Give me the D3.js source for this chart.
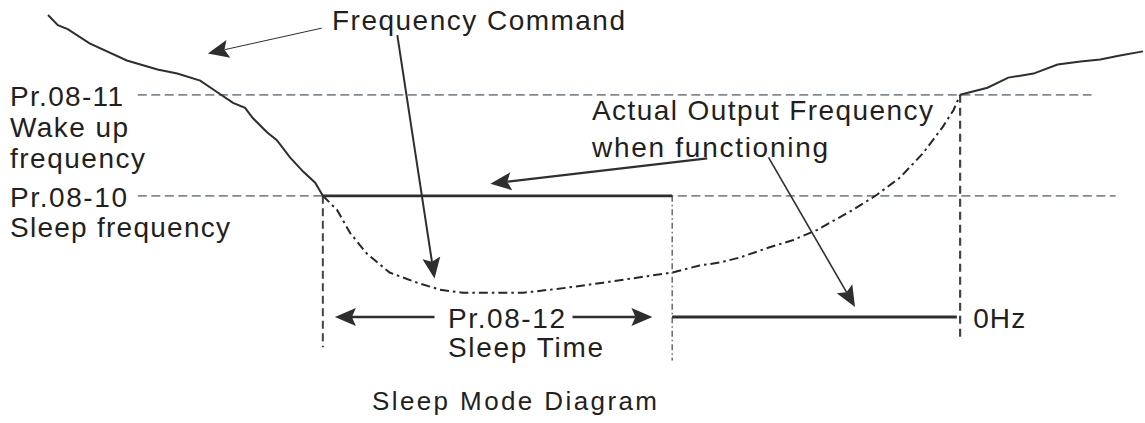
<!DOCTYPE html>
<html>
<head>
<meta charset="utf-8">
<script src="https://cdn.jsdelivr.net/npm/d3@7/dist/d3.min.js"></script>
<style>
  body { margin: 0; background: #fff; }
  text { font-family: "Liberation Sans", Arial, sans-serif; fill: #231f20; }
</style>
</head>
<body>
<script>
// Sleep mode diagram: time (arbitrary units) vs output frequency (Hz)

// frequency command before it falls to the sleep level
var commandIn = [[0, 29.9], [0.9, 28.9], [1.8, 28.5], [3.8, 27.1], [7.2, 25.4],
    [10.0, 24.5], [11.8, 24.1], [13.9, 23.4], [15.4, 22.3], [16.9, 21.2],
    [18.0, 20.7], [18.7, 19.7], [20.0, 18.3], [20.9, 17.5], [22.1, 15.8],
    [23.3, 14.4], [24.4, 13.3], [25.1, 12.0]];
// frequency command after wake up
var commandOut = [[83.3, 22.0], [85.8, 22.7], [87.7, 23.7], [90.0, 24.1],
    [92.2, 25.0], [94.3, 25.3], [96.1, 25.5], [97.9, 25.9], [100, 26.3]];
// actual output frequency when functioning (dashed)
var actualOut = [[25.1, 12.0], [26.4, 10.6], [27.6, 8.3], [29.1, 6.3],
    [31.2, 4.4], [33.7, 3.4], [35.8, 2.7], [37.9, 2.4], [43.4, 2.4],
    [47.4, 2.9], [50.7, 3.4], [57.0, 4.4], [59.5, 5.1], [61.4, 5.4],
    [63.2, 5.9], [65.9, 6.9], [68.0, 7.6], [70.2, 8.6], [73.5, 10.6],
    [75.7, 12.1], [77.8, 13.8], [79.9, 16.2], [81.7, 18.8], [82.7, 20.5],
    [83.3, 22.0]];
// output held at sleep frequency, then at 0 Hz
var sleepHold = [[25.1, 12], [57.0, 12]];
var zeroHold = [[57.0, 0], [83.0, 0]];

// parameter levels (Hz) and their labels
var wakeFreq = 22, sleepFreq = 12;
var wakeLabel = ["Pr.08-11", "Wake up", "frequency"];
var sleepLabel = ["Pr.08-10", "Sleep frequency"];

// event times
var tSleep = 25.1, tSleepEnd = 57.0, tWake = 83.3;

// annotation arrows: [from, to] in (time, Hz)
var arrowCmdA = [[25.0, 28.6], [14.6, 26.1]];
var arrowCmdB = [[31.9, 27.9], [35.3, 3.8]];
var arrowActA = [[60.2, 15.7], [40.4, 13.2]];
var arrowActB = [[65.8, 15.8], [73.7, 1.0]];
var spanLeft = [[35.3, 0], [26.2, 0]];
var spanRight = [[47.9, 0], [55.2, 0]];

var width = 1145, height = 423;

var svg = d3.select("body").append("svg")
    .attr("width", width)
    .attr("height", height);

var x = d3.scaleLinear().domain([0, 100]).range([48, 1143]);
var y = d3.scaleLinear().domain([0, 30]).range([317, 14]);

var line = d3.line()
    .x(function(d) { return x(d[0]); })
    .y(function(d) { return y(d[1]); });

var dark = "#2e2e2e", grey = "#7f8994";

// horizontal reference levels
svg.append("line")
    .attr("x1", x(8.2)).attr("x2", x(95.3))
    .attr("y1", y(wakeFreq)).attr("y2", y(wakeFreq))
    .style("stroke", grey).style("stroke-width", 1.8)
    .style("stroke-dasharray", "9,4.5");
svg.append("line")
    .attr("x1", x(8.2)).attr("x2", x(97.5))
    .attr("y1", y(sleepFreq)).attr("y2", y(sleepFreq))
    .style("stroke", grey).style("stroke-width", 1.8)
    .style("stroke-dasharray", "9,4.5");

// vertical event markers
svg.append("line")
    .attr("x1", x(tSleep)).attr("x2", x(tSleep))
    .attr("y1", y(sleepFreq)).attr("y2", y(-3.0))
    .style("stroke", "#444").style("stroke-width", 2)
    .style("stroke-dasharray", "8,4.5");
svg.append("line")
    .attr("x1", x(tSleepEnd)).attr("x2", x(tSleepEnd))
    .attr("y1", y(sleepFreq)).attr("y2", y(-4.3))
    .style("stroke", "#333").style("stroke-width", 1.1)
    .style("stroke-dasharray", "6,3,1.5,3");
svg.append("line")
    .attr("x1", x(tWake)).attr("x2", x(tWake))
    .attr("y1", y(wakeFreq)).attr("y2", y(-2.1))
    .style("stroke", "#444").style("stroke-width", 2.2)
    .style("stroke-dasharray", "8,5");

// curves
svg.append("path").datum(actualOut)
    .attr("d", line)
    .style("fill", "none").style("stroke", "#262626")
    .style("stroke-width", 2).style("stroke-dasharray", "9,4,2.5,4");
svg.append("path").datum(commandIn)
    .attr("d", line)
    .style("fill", "none").style("stroke", dark).style("stroke-width", 2);
svg.append("path").datum(commandOut)
    .attr("d", line)
    .style("fill", "none").style("stroke", dark).style("stroke-width", 2);
svg.append("path").datum(sleepHold)
    .attr("d", line)
    .style("fill", "none").style("stroke", dark).style("stroke-width", 2.8);
svg.append("path").datum(zeroHold)
    .attr("d", line)
    .style("fill", "none").style("stroke", dark).style("stroke-width", 2.8);

// arrow: straight shaft plus a notched filled head
function arrow(pts, w) {
    var x0 = x(pts[0][0]), y0 = y(pts[0][1]);
    var x1 = x(pts[1][0]), y1 = y(pts[1][1]);
    var dx = x1 - x0, dy = y1 - y0, len = Math.sqrt(dx * dx + dy * dy);
    var ux = dx / len, uy = dy / len;
    var hl = 21, hw = 9, notch = 4;
    var bx = x1 - ux * hl, by = y1 - uy * hl;
    var nx = x1 - ux * (hl - notch), ny = y1 - uy * (hl - notch);
    svg.append("line")
        .attr("x1", x0).attr("y1", y0).attr("x2", nx).attr("y2", ny)
        .style("stroke", dark).style("stroke-width", w);
    svg.append("path")
        .attr("d", "M" + x1 + "," + y1 +
            "L" + (bx - uy * hw) + "," + (by + ux * hw) +
            "L" + nx + "," + ny +
            "L" + (bx + uy * hw) + "," + (by - ux * hw) + "Z")
        .style("fill", dark);
}

arrow(arrowCmdA, 1);
arrow(arrowCmdB, 2);
arrow(arrowActA, 2.2);
arrow(arrowActB, 1.6);
arrow(spanLeft, 2.6);
arrow(spanRight, 2.6);

// text helper, width fitted with textLength
function label(str, px, py, len, size) {
    svg.append("text")
        .attr("x", px).attr("y", py)
        .attr("textLength", len)
        .attr("lengthAdjust", "spacing")
        .style("font-size", (size || 28) + "px")
        .text(str);
}

var wakeLens = [113, 118, 135], sleepLens = [117, 220];
wakeLabel.forEach(function(s, i) {
    label(s, 10, y(wakeFreq) + 11 + i * 31, wakeLens[i]);
});
sleepLabel.forEach(function(s, i) {
    label(s, 10, y(sleepFreq) + 11 + i * 30, sleepLens[i]);
});

label("Frequency Command", 332, 30, 293);
label("Actual Output Frequency", 592, 120, 341);
label("when functioning", 592, 157, 236);
label("Pr.08-12", 448, y(0) + 11, 117);
label("Sleep Time", 448, y(0) + 40, 155);
label("0Hz", x(tWake) + 13, y(0) + 11, 52);
label("Sleep Mode Diagram", 372, 410, 285, 26);
</script>
</body>
</html>
